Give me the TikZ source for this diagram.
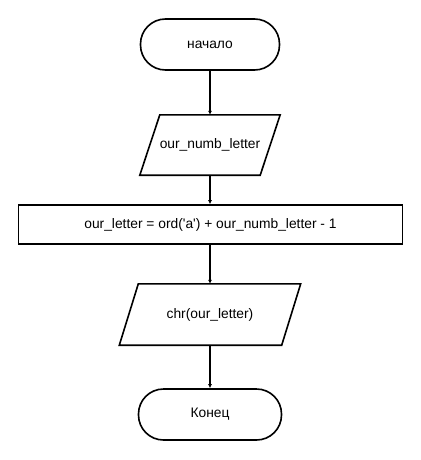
\documentclass[tikz,border=0pt]{standalone}
\usepackage{fontspec}
\setmainfont{Liberation Sans}
\usetikzlibrary{arrows.meta}
\tikzset{
	termbox/.style={draw,line width=1.6pt,rounded corners=25pt,minimum width=139pt,minimum height=51pt,inner sep=0pt},
	iobox/.style={inner sep=0pt},
	ioline/.style={line width=1.6pt,line join=miter},
	procbox/.style={draw,line width=1.6pt,minimum width=384pt,minimum height=39pt,inner sep=0pt},
	flow/.style={line width=1.2pt,-{Latex[length=4pt,width=4pt]}}
}
\begin{document}
\begin{tikzpicture}[x=1pt,y=-1pt,font=\fontsize{13.8}{16}\selectfont]
		\useasboundingbox (0,0) rectangle (420,460);
		% Begin
		\node[termbox] (begin) at (210,44.5) {начало};
		% Input
		\node[iobox,minimum width=120pt,minimum height=60pt] (input) at (210,145) {our\_numb\_letter};
		\draw[ioline] ([xshift=10pt]input.north west) -- ([xshift=10pt]input.north east) -- ([xshift=-10pt]input.south east) -- ([xshift=-10pt]input.south west) -- cycle;
		% Calculation
		\node[procbox] (calc) at (210.5,224.5) {our\_letter = ord(\textquotesingle a\textquotesingle) + our\_numb\_letter - 1};
		% Output
		\node[iobox,minimum width=162pt,minimum height=61pt] (output) at (210,314.5) {chr(our\_letter)};
		\draw[ioline] ([xshift=9.5pt]output.north west) -- ([xshift=9.5pt]output.north east) -- ([xshift=-9.5pt]output.south east) -- ([xshift=-9.5pt]output.south west) -- cycle;
		% End
		\node[termbox,minimum width=143pt] (finish) at (210,414.5) {Конец};
		% Arrows
		\draw[flow] (begin) -- (input);
		\draw[flow] (input) -- (input |- calc.north);
		\draw[flow] (output |- calc.south) -- (output);
		\draw[flow] (output) -- (finish);
		\end{tikzpicture}
\end{document}
